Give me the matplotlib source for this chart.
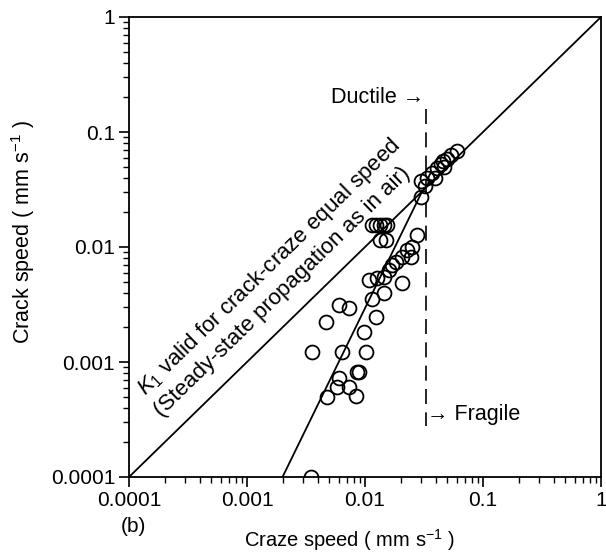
import numpy as np
import matplotlib
matplotlib.use("Agg")
import matplotlib.pyplot as plt
from matplotlib.ticker import LogLocator, NullFormatter, FixedLocator, FixedFormatter

plt.rcParams['font.family'] = ['Liberation Sans', 'DejaVu Sans']
plt.rcParams['mathtext.fontset'] = 'custom'
plt.rcParams['mathtext.rm'] = 'Liberation Sans'
plt.rcParams['mathtext.it'] = 'Liberation Sans:italic'

# data
craze_speed = [0.0297, 0.030, 0.0333, 0.0367, 0.0405, 0.0438, 0.0455, 0.050, 0.054, 0.0597,
               0.032, 0.039, 0.047,
               0.01146, 0.0124, 0.0134, 0.01446, 0.01535, 0.0134, 0.0150,
               0.0275, 0.0249, 0.0226, 0.0205, 0.0244, 0.0183, 0.0169, 0.0160, 0.0145,
               0.0126, 0.0108, 0.0205, 0.0145, 0.0115, 0.0124,
               0.0060, 0.0073, 0.00469, 0.0098, 0.00357, 0.0064, 0.0102,
               0.00855, 0.0089, 0.0060, 0.0058, 0.0073, 0.00478, 0.0084, 0.0035]
crack_speed = [0.0272, 0.0375, 0.040, 0.044, 0.0486, 0.0527, 0.056, 0.058, 0.063, 0.0684,
               0.034, 0.040, 0.050,
               0.0155, 0.0155, 0.0155, 0.0155, 0.0155, 0.0115, 0.0115,
               0.0127, 0.010, 0.0094, 0.0082, 0.0082, 0.0074, 0.0070, 0.0063, 0.0055,
               0.0054, 0.0052, 0.0049, 0.0040, 0.0035, 0.00246,
               0.00313, 0.00295, 0.00223, 0.00182, 0.00122, 0.00122, 0.00122,
               0.00082, 0.00082, 0.00073, 0.00061, 0.00061, 0.000496, 0.000506, 0.0001]

equal_line_x = [1e-4, 1.0]
equal_line_y = [1e-4, 1.0]
steep_line_x = [0.002, 0.0305]
steep_line_y = [1e-4, 0.0305]
transition_x = 0.033
transition_y = [0.16, 0.00028]

tick_vals = [1e-4, 1e-3, 1e-2, 1e-1, 1]
tick_labels = ['0.0001', '0.001', '0.01', '0.1', '1']

fig = plt.figure(figsize=(6.06, 5.53), dpi=100)
ax = fig.add_axes([129/606, 1-477/553, (601-129)/606, (477-17)/553])
ax.set_xscale('log')
ax.set_yscale('log')
ax.set_xlim(1e-4, 1)
ax.set_ylim(1e-4, 1)

ax.plot(equal_line_x, equal_line_y, color='black', lw=1.3)
ax.plot(steep_line_x, steep_line_y, color='black', lw=1.3)
ax.plot([transition_x, transition_x], transition_y, color='black', lw=1.2,
        dashes=(9, 5))
ax.plot(craze_speed, crack_speed, linestyle='none', marker='o', ms=10,
        mfc='none', mec='black', mew=1.3)

for axis in (ax.xaxis, ax.yaxis):
    axis.set_major_locator(FixedLocator(tick_vals))
    axis.set_major_formatter(FixedFormatter(tick_labels))
    axis.set_minor_locator(LogLocator(base=10, subs=np.arange(2, 10)))
    axis.set_minor_formatter(NullFormatter())
ax.tick_params(which='major', direction='out', length=7, width=1.2, labelsize=15, pad=3)
ax.tick_params(which='minor', direction='out', length=4, width=1.0)
ax.xaxis.get_major_ticks()[-1].label1.set_horizontalalignment('center')
for s in ax.spines.values():
    s.set_linewidth(1.3)

# rotated annotations
p0 = ax.transData.transform((1e-4, 1e-4))
p1 = ax.transData.transform((1, 1))
ang = np.degrees(np.arctan2(p1[1] - p0[1], p1[0] - p0[0]))
ax.text(0.00155, 0.0066, r'$\mathit{K}_1$ valid for crack-craze equal speed', rotation=ang,
        rotation_mode='anchor', ha='center', va='center', fontsize=16)
ax.text(0.0020, 0.0041, '(Steady-state propagation as in air)', rotation=ang,
        rotation_mode='anchor', ha='center', va='center', fontsize=16)

ax.text(0.0315, 0.20, 'Ductile \u2192', ha='right', va='center', fontsize=15.5)
ax.text(0.0335, 0.00035, '\u2192 Fragile', ha='left', va='center', fontsize=15.5)

fig.text(349/606, 1-540/553, r'Craze speed ( mm s$^{-1}$ )', ha='center', va='center', fontsize=14.5)
fig.text(23/606, 1-232/553, r'Crack speed ( mm s$^{-1}$ )', ha='center', va='center',
         rotation=90, fontsize=15.5)
fig.text(133/606, 1-527/553, '(b)', ha='center', va='center', fontsize=15)

fig.savefig('out.png', dpi=100)
